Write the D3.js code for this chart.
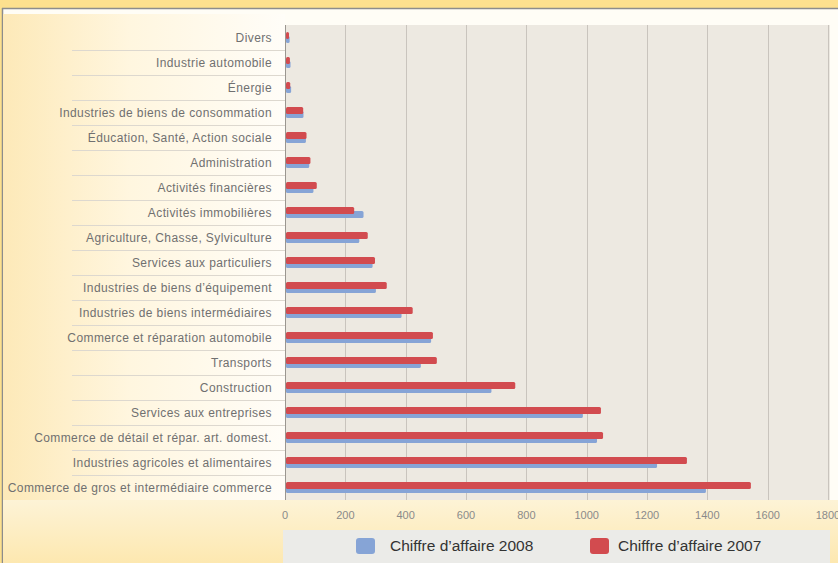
<!DOCTYPE html>
<meta charset="utf-8">
<script src="https://d3js.org/d3.v7.min.js"></script>
<style>
  body { margin: 0; background: #fde08e; }
  svg { display: block; font-family: "Liberation Sans", Arial, sans-serif; }
</style>
<div id="my_dataviz"></div>
<script>

// data, top to bottom
var categories = [
  "Divers",
  "Industrie automobile",
  "Énergie",
  "Industries de biens de consommation",
  "Éducation, Santé, Action sociale",
  "Administration",
  "Activités financières",
  "Activités immobilières",
  "Agriculture, Chasse, Sylviculture",
  "Services aux particuliers",
  "Industries de biens d’équipement",
  "Industries de biens intermédiaires",
  "Commerce et réparation automobile",
  "Transports",
  "Construction",
  "Services aux entreprises",
  "Commerce de détail et répar. art. domest.",
  "Industries agricoles et alimentaires",
  "Commerce de gros et intermédiaire commerce"
];
var ca2008 = [12, 15, 17, 58, 66, 77, 91, 257, 243, 287, 298, 383, 481, 447, 681, 984, 1031, 1230, 1392];
var ca2007 = [10, 13, 14, 57, 68, 81, 102, 226, 271, 295, 334, 420, 487, 500, 760, 1044, 1051, 1329, 1541];
var xTicks = [0, 200, 400, 600, 800, 1000, 1200, 1400, 1600, 1800];
var seriesNames = ["Chiffre d’affaire 2008", "Chiffre d’affaire 2007"];

var W = 838, H = 563;
var plot = {left: 285, right: 830, top: 25, bottom: 500};

var svg = d3.select("#my_dataviz")
  .append("svg")
    .attr("width", W)
    .attr("height", H);

var defs = svg.append("defs");
var grad = defs.append("linearGradient").attr("id", "lblbg");
grad.append("stop").attr("offset", "0%").attr("stop-color", "#fde9b8");
grad.append("stop").attr("offset", "45%").attr("stop-color", "#fff6df");
grad.append("stop").attr("offset", "100%").attr("stop-color", "#fffdf8");

var gradB = defs.append("linearGradient").attr("id", "botbg").attr("x2", 0).attr("y2", 1);
gradB.append("stop").attr("offset", "0%").attr("stop-color", "#fdf3d6");
gradB.append("stop").attr("offset", "100%").attr("stop-color", "#fde8b0");

// frame
svg.append("rect").attr("x", 0).attr("y", 0).attr("width", W).attr("height", H).attr("fill", "#fde08e");
svg.append("rect").attr("x", 2).attr("y", 9).attr("width", W - 2).attr("height", H - 9).attr("fill", "#fffdf6");
svg.append("line").attr("x1", 2).attr("x2", W).attr("y1", 8.5).attr("y2", 8.5).attr("stroke", "#8c8c8c").attr("stroke-width", 1.5);
svg.append("line").attr("x1", 2.5).attr("x2", 2.5).attr("y1", 8).attr("y2", H).attr("stroke", "#8c8c8c").attr("stroke-width", 1.5);

// label area and lower area
svg.append("rect").attr("x", 3).attr("y", 14).attr("width", plot.left - 3).attr("height", plot.bottom - 14).attr("fill", "url(#lblbg)");
svg.append("rect").attr("x", 3).attr("y", plot.bottom).attr("width", W - 3).attr("height", H - plot.bottom).attr("fill", "url(#botbg)");

// plot background
svg.append("rect")
  .attr("x", plot.left).attr("y", plot.top)
  .attr("width", plot.right - plot.left).attr("height", plot.bottom - plot.top)
  .attr("fill", "#ede9e1");

var x = d3.scaleLinear()
  .domain([0, 1800])
  .range([plot.left, plot.left + 543]);

var y = d3.scaleBand()
  .domain(categories)
  .range([plot.top, plot.bottom]);

// grid
svg.append("g")
  .selectAll("line")
  .data(xTicks.slice(1))
  .join("line")
    .attr("x1", function(d) { return Math.round(x(d)) + 0.5; })
    .attr("x2", function(d) { return Math.round(x(d)) + 0.5; })
    .attr("y1", plot.top)
    .attr("y2", plot.bottom)
    .attr("stroke", "#c9c4bd")
    .attr("stroke-width", 1);

// row separators in the label area
svg.append("g")
  .selectAll("line")
  .data(categories.slice(1))
  .join("line")
    .attr("x1", 72)
    .attr("x2", plot.left)
    .attr("y1", function(d) { return y(d) + 0.5; })
    .attr("y2", function(d) { return y(d) + 0.5; })
    .attr("stroke", "#ddd8cf");

// y axis line
svg.append("line")
  .attr("x1", plot.left + 0.5).attr("x2", plot.left + 0.5)
  .attr("y1", plot.top).attr("y2", plot.bottom)
  .attr("stroke", "#9a9690");

// category labels
svg.append("g")
  .selectAll("text")
  .data(categories)
  .join("text")
    .attr("x", 272)
    .attr("y", function(d) { return y(d) + y.bandwidth() / 2; })
    .attr("dy", "0.35em")
    .attr("text-anchor", "end")
    .attr("font-size", 12)
    .attr("letter-spacing", 0.4)
    .attr("fill", "#707070")
    .text(function(d) { return d; });

// bars: 2008 behind, 2007 on top
var rows = categories.map(function(c, i) { return {cat: c, v8: ca2008[i], v7: ca2007[i]}; });

svg.append("g")
  .selectAll("rect")
  .data(rows)
  .join("rect")
    .attr("x", x(0) + 1)
    .attr("y", function(d) { return y(d.cat) + 11; })
    .attr("width", function(d) { return x(d.v8) - x(0); })
    .attr("height", 7)
    .attr("rx", 1.5)
    .attr("fill", "#86a4d6");

svg.append("g")
  .selectAll("rect")
  .data(rows)
  .join("rect")
    .attr("x", x(0) + 1)
    .attr("y", function(d) { return y(d.cat) + 7; })
    .attr("width", function(d) { return x(d.v7) - x(0); })
    .attr("height", 7)
    .attr("rx", 1.5)
    .attr("fill", "#d24b4f");

// x axis labels
svg.append("g")
  .selectAll("text")
  .data(xTicks)
  .join("text")
    .attr("x", function(d) { return x(d); })
    .attr("y", 519)
    .attr("text-anchor", "middle")
    .attr("font-size", 11)
    .attr("fill", "#8a8a8a")
    .text(function(d) { return d; });

// legend
svg.append("rect")
  .attr("x", 283).attr("y", 530)
  .attr("width", 547).attr("height", H - 530)
  .attr("fill", "#ebebe8");

var legendX = [356, 590];
var legendTextX = [34, 28];
var legendColors = ["#86a4d6", "#d24b4f"];
var lg = svg.append("g")
  .selectAll("g")
  .data(seriesNames)
  .join("g")
    .attr("transform", function(d, i) { return "translate(" + legendX[i] + ",546)"; });
lg.append("rect")
  .attr("x", 0).attr("y", -8)
  .attr("width", 19).attr("height", 16)
  .attr("rx", 3)
  .attr("fill", function(d, i) { return legendColors[i]; });
lg.append("text")
  .attr("x", function(d, i) { return legendTextX[i]; })
  .attr("dy", "0.35em")
  .attr("font-size", 15.5)
  .attr("fill", "#333")
  .text(function(d) { return d; });

</script>
